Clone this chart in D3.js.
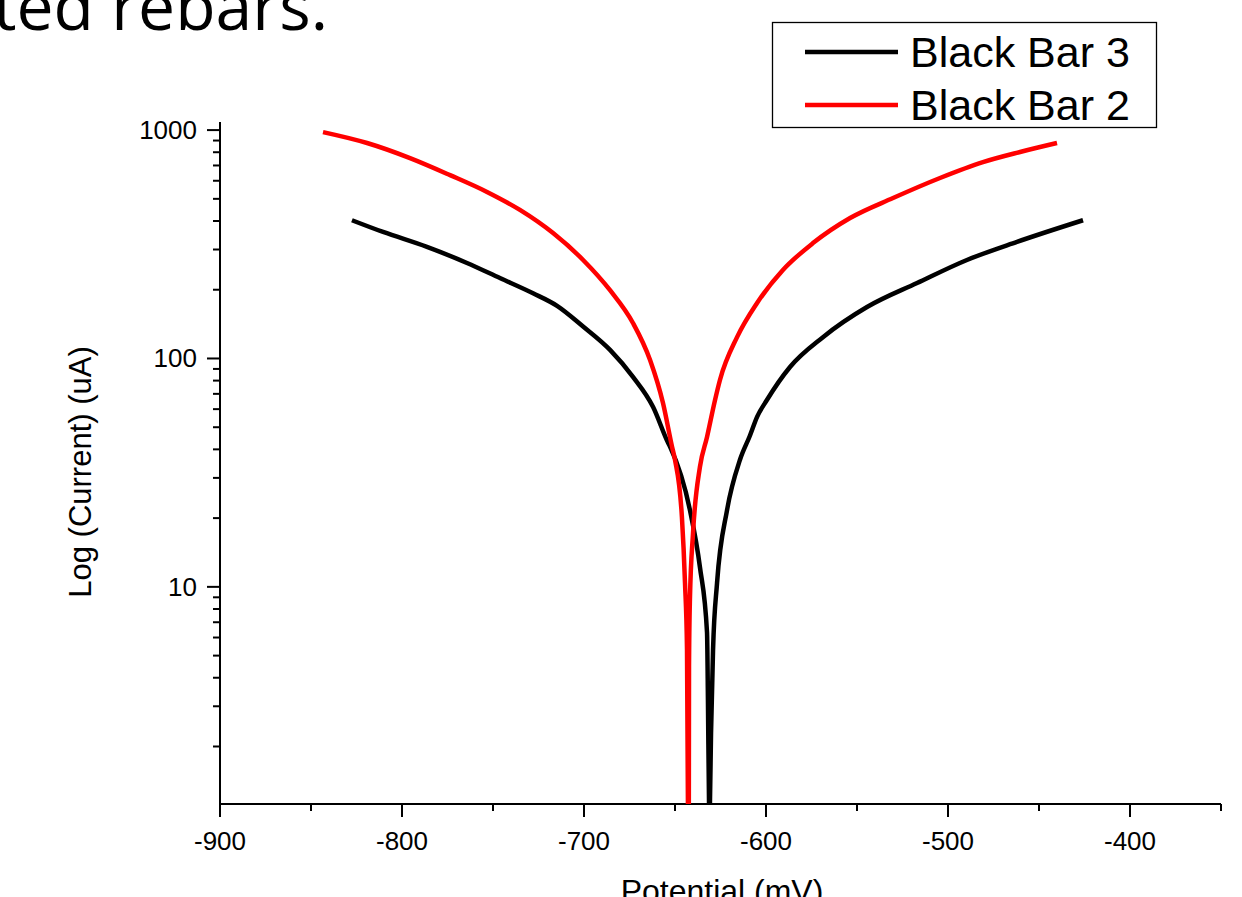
<!DOCTYPE html>
<html lang="en">
<head>
<meta charset="utf-8">
<title>Potential vs log current</title>
<script src="https://d3js.org/d3.v7.min.js"></script>
<style>
  body { margin: 0; background: #fff; }
  text { font-family: Arial, "Liberation Sans", sans-serif; }
</style>
</head>
<body>
<script>
// series data (potential in mV, current in uA)
var bar3Potential = [-827.5, -810.4, -786.3, -764.3, -746.2, -728.0, -714.8, -700.5, -685.7, -673.1,
  -662.1, -653.8, -652.7, -641.8, -636.3, -632.4, -631.9, -631.3, -631.0,
  -630.8, -630.2, -629.1, -626.9, -621.4, -614.3, -608.8, -604.9, -599.5, -586.8,
  -568.7, -544.5, -517.0, -489.6, -462.1, -425.8];
var bar3Current = [403, 358, 308, 262, 225, 193, 170, 138, 109, 83,
  61.4, 42.7, 41, 21.7, 12.2, 6.3, 3.2, 1.13, 1.0,
  1.13, 2.3, 5.3, 10.4, 21.7, 36, 46, 55.5, 65.8, 91.8,
  124, 168, 214, 270, 324, 403];

var bar2Potential = [-843.4, -819.2, -795.6, -773.6, -753.3, -735.2, -717.0, -700.5, -685.7, -673.1,
  -663.7, -656.6, -651.6, -650.0, -646.2, -644.5, -643.4, -642.9, -642.6,
  -642.4, -642.3, -641.8, -640.1, -636.3, -632.4, -628.0, -625.3, -615.9, -604.9,
  -590.7, -574.2, -553.8, -530.2, -504.4, -480.8, -460.4, -440.1];
var bar2Current = [980, 878, 754, 635, 536, 447, 354, 270, 199, 143,
  98.4, 63.8, 41, 36, 20.2, 10.4, 5.3, 1.13, 1.0,
  1.13, 4.5, 8.8, 17.2, 33.5, 45.3, 65.8, 80.5, 124, 175,
  244, 320, 412, 504, 617, 724, 802, 878];

var seriesNames = ["Black Bar 3", "Black Bar 2"];
var seriesColors = ["#000000", "#ff0000"];

var xTicks = [-900, -800, -700, -600, -500, -400];
var xMinorTicks = [-850, -750, -650, -550, -450, -350];
var yTicks = [10, 100, 1000];

var w = 1242, h = 897;
var plotLeft = 220, plotRight = 1221, plotTop = 122, plotBottom = 804;

var svg = d3.select("body").append("svg")
  .attr("width", w)
  .attr("height", h);

// slide heading, cut by the crop
svg.append("text")
  .attr("x", 328)
  .attr("y", 30)
  .attr("text-anchor", "end")
  .style("font-family", "'Open Sans', 'Noto Sans', sans-serif")
  .style("font-size", "66px")
  .text("ted rebars.");

var x = d3.scaleLinear().domain([-900, -350]).range([plotLeft, plotRight]);
var y = d3.scaleLog().domain([1.12, 1085]).range([plotBottom, plotTop]);

// minor ticks on the log axis: 2..9 in every decade
var yMinor = [];
[1, 10, 100].forEach(function(d) {
  for (var k = 2; k <= 9; k++) {
    var v = d * k;
    if (v >= 1.12 && v <= 1085) yMinor.push(v);
  }
});

svg.append("defs").append("clipPath").attr("id", "plot")
  .append("rect")
  .attr("x", plotLeft).attr("y", plotTop - 10)
  .attr("width", plotRight - plotLeft).attr("height", plotBottom - plotTop + 10);

// x axis
var xAxis = svg.append("g").attr("transform", "translate(0," + plotBottom + ")");
xAxis.append("line")
  .attr("x1", plotLeft).attr("x2", plotRight)
  .attr("stroke", "#000").attr("stroke-width", 2);
xAxis.selectAll(".maj").data(xTicks).enter().append("line")
  .attr("x1", d => x(d)).attr("x2", d => x(d))
  .attr("y1", 0).attr("y2", 13)
  .attr("stroke", "#000").attr("stroke-width", 2);
xAxis.selectAll(".min").data(xMinorTicks).enter().append("line")
  .attr("x1", d => x(d)).attr("x2", d => x(d))
  .attr("y1", 0).attr("y2", 7)
  .attr("stroke", "#000").attr("stroke-width", 2);
xAxis.selectAll("text").data(xTicks).enter().append("text")
  .attr("x", d => x(d))
  .attr("y", 46)
  .attr("text-anchor", "middle")
  .style("font-size", "26px")
  .text(d => d);

// y axis
var yAxis = svg.append("g");
yAxis.append("line")
  .attr("x1", plotLeft).attr("x2", plotLeft)
  .attr("y1", plotTop).attr("y2", plotBottom + 7)
  .attr("stroke", "#000").attr("stroke-width", 2);
yAxis.selectAll(".maj").data(yTicks).enter().append("line")
  .attr("x1", plotLeft - 13).attr("x2", plotLeft)
  .attr("y1", d => y(d)).attr("y2", d => y(d))
  .attr("stroke", "#000").attr("stroke-width", 2);
yAxis.selectAll(".min").data(yMinor).enter().append("line")
  .attr("x1", plotLeft - 7).attr("x2", plotLeft)
  .attr("y1", d => y(d)).attr("y2", d => y(d))
  .attr("stroke", "#000").attr("stroke-width", 2);
yAxis.selectAll("text").data(yTicks).enter().append("text")
  .attr("x", plotLeft - 23)
  .attr("y", d => y(d) + 9)
  .attr("text-anchor", "end")
  .style("font-size", "26px")
  .text(d => d);

// axis titles
svg.append("text")
  .attr("x", 722)
  .attr("y", 902)
  .attr("text-anchor", "middle")
  .style("font-size", "32px")
  .text("Potential (mV)");

svg.append("text")
  .attr("transform", "translate(91,472) rotate(-90)")
  .attr("text-anchor", "middle")
  .style("font-size", "31px")
  .text("Log (Current) (uA)");

// curves
var line = d3.line()
  .curve(d3.curveMonotoneX)
  .x(d => x(d[0]))
  .y(d => y(d[1]));

var series = [
  d3.zip(bar3Potential, bar3Current),
  d3.zip(bar2Potential, bar2Current)
];

svg.append("g").attr("clip-path", "url(#plot)")
  .selectAll("path").data(series).enter().append("path")
  .attr("d", line)
  .attr("fill", "none")
  .attr("stroke", (d, i) => seriesColors[i])
  .attr("stroke-width", 4.5)
  .attr("stroke-linejoin", "round");

// legend
var legend = svg.append("g");
legend.append("rect")
  .attr("x", 772.5).attr("y", 22.5)
  .attr("width", 384).attr("height", 105)
  .attr("fill", "#fff")
  .attr("stroke", "#000").attr("stroke-width", 1.3);
legend.selectAll("line").data(seriesNames).enter().append("line")
  .attr("x1", 805).attr("x2", 898)
  .attr("y1", (d, i) => 52 + i * 53).attr("y2", (d, i) => 52 + i * 53)
  .attr("stroke", (d, i) => seriesColors[i])
  .attr("stroke-width", 4.5);
legend.selectAll("text").data(seriesNames).enter().append("text")
  .attr("x", 910)
  .attr("y", (d, i) => 67 + i * 53)
  .style("font-size", "43px")
  .text(d => d);
</script>
</body>
</html>
